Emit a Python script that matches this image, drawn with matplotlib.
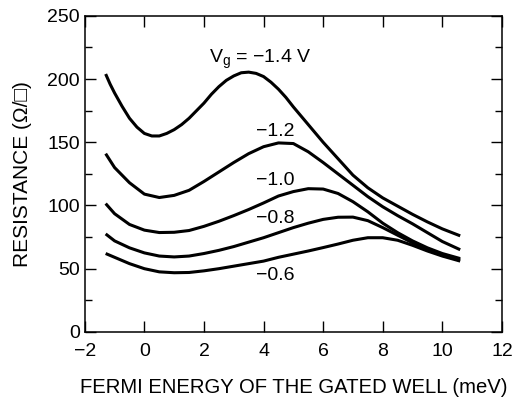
"""Resistance vs Fermi energy of the gated well for several gate voltages."""

import matplotlib
matplotlib.use("Agg")
import matplotlib.pyplot as plt
from matplotlib.ticker import MultipleLocator

plt.rcParams["font.family"] = ["Liberation Sans", "DejaVu Sans"]

energy = [-1.3, -1.0, -0.5, 0.0, 0.5, 1.0, 1.5, 2.0, 2.5, 3.0, 3.5, 4.0, 4.5,
          5.0, 5.5, 6.0, 6.5, 7.0, 7.5, 8.0, 8.5, 9.0, 9.5, 10.0, 10.6]

# the top curve bends sharply, so it was read on a finer grid
energy_14 = [-1.3, -1.15, -1.0, -0.75, -0.5, -0.25, 0.0, 0.25, 0.5, 0.75, 1.0,
             1.25, 1.5, 1.75, 2.0, 2.25, 2.5, 2.75, 3.0, 3.25, 3.5, 3.75, 4.0,
             4.25, 4.5, 4.75, 5.0, 5.5, 6.0, 6.5, 7.0, 7.5, 8.0, 8.5, 9.0,
             9.5, 10.0, 10.6]

# Resistance (Ohm/sq) for each gate voltage
r_14 = [204, 196, 189, 178.5, 169, 162, 157, 155, 155, 157, 160,
        164, 169, 175, 181, 188, 194, 199, 202.5, 205, 205.5, 204.5, 202,
        197.5, 192, 185.5, 178, 164, 150, 137, 124, 114, 106, 99.5, 93,
        87, 81.5, 76]
r_12 = [141, 130, 118, 109, 106.3, 108, 112, 119, 126.5, 134, 141, 146.5, 149.5,
        149, 142.5, 134, 125, 116, 107, 99, 92, 85.5, 78.5, 71.5, 65]
r_10 = [101.5, 93.5, 85, 80.5, 78.6, 78.8, 80.2, 83.5, 87.5, 92, 96.8, 102, 107.5,
        111, 113.3, 113, 109.5, 103, 95, 86, 78.5, 72, 66.5, 62, 58]
r_08 = [77.5, 72, 66.5, 62.5, 60, 59.3, 60, 62, 64.5, 67.5, 71, 74.5, 78.5,
        82.5, 86, 89, 90.7, 90.8, 88, 82.5, 76.5, 70.5, 65, 60.5, 57]
r_06 = [62, 59, 54, 50, 47.5, 46.8, 47, 48.3, 50, 52, 54, 56, 59,
        61.5, 64, 66.7, 69.5, 72.5, 74.5, 74.5, 72.5, 68.5, 64, 60, 56]

curves = [(energy_14, r_14), (energy, r_12), (energy, r_10), (energy, r_08), (energy, r_06)]
curve_labels = ["V$_\\mathregular{g}$ = \u22121.4 V", "\u22121.2", "\u22121.0", "\u22120.8", "\u22120.6"]
label_pos = [(3.88, 213), (4.4, 158.5), (4.4, 120), (4.4, 89.5), (4.4, 44.5)]

fig = plt.figure(figsize=(5.3, 3.97), dpi=100)
ax = fig.add_axes([0.160, 0.164, 0.787, 0.796])

for xs, values in curves:
    ax.plot(xs, values, color="black", linewidth=2.2,
            solid_capstyle="butt", solid_joinstyle="round")

for i, (text, (tx, ty)) in enumerate(zip(curve_labels, label_pos)):
    ax.text(tx, ty, text, ha="center", va="baseline" if i == 0 else "center",
            fontsize=14)

ax.set_xlim(-2, 12)
ax.set_ylim(0, 250)
ax.xaxis.set_major_locator(MultipleLocator(2))
ax.yaxis.set_major_locator(MultipleLocator(50))
ax.yaxis.set_minor_locator(MultipleLocator(25))
ax.tick_params(which="both", direction="in", top=True, right=True,
               width=1.0, labelsize=14)
ax.tick_params(axis="x", pad=8)
ax.tick_params(axis="y", pad=3.5)
ax.tick_params(which="major", length=8)
ax.tick_params(which="minor", length=5)
for spine in ax.spines.values():
    spine.set_linewidth(1.1)

ax.set_xlabel("FERMI ENERGY OF THE GATED WELL (meV)", fontsize=14.6)
ax.set_ylabel("RESISTANCE (\u03a9/\u25a1)", fontsize=15)
ax.xaxis.set_label_coords(0.5, -0.146)
ax.yaxis.set_label_coords(-0.127, 0.5)

fig.savefig("out.png", dpi=100)
